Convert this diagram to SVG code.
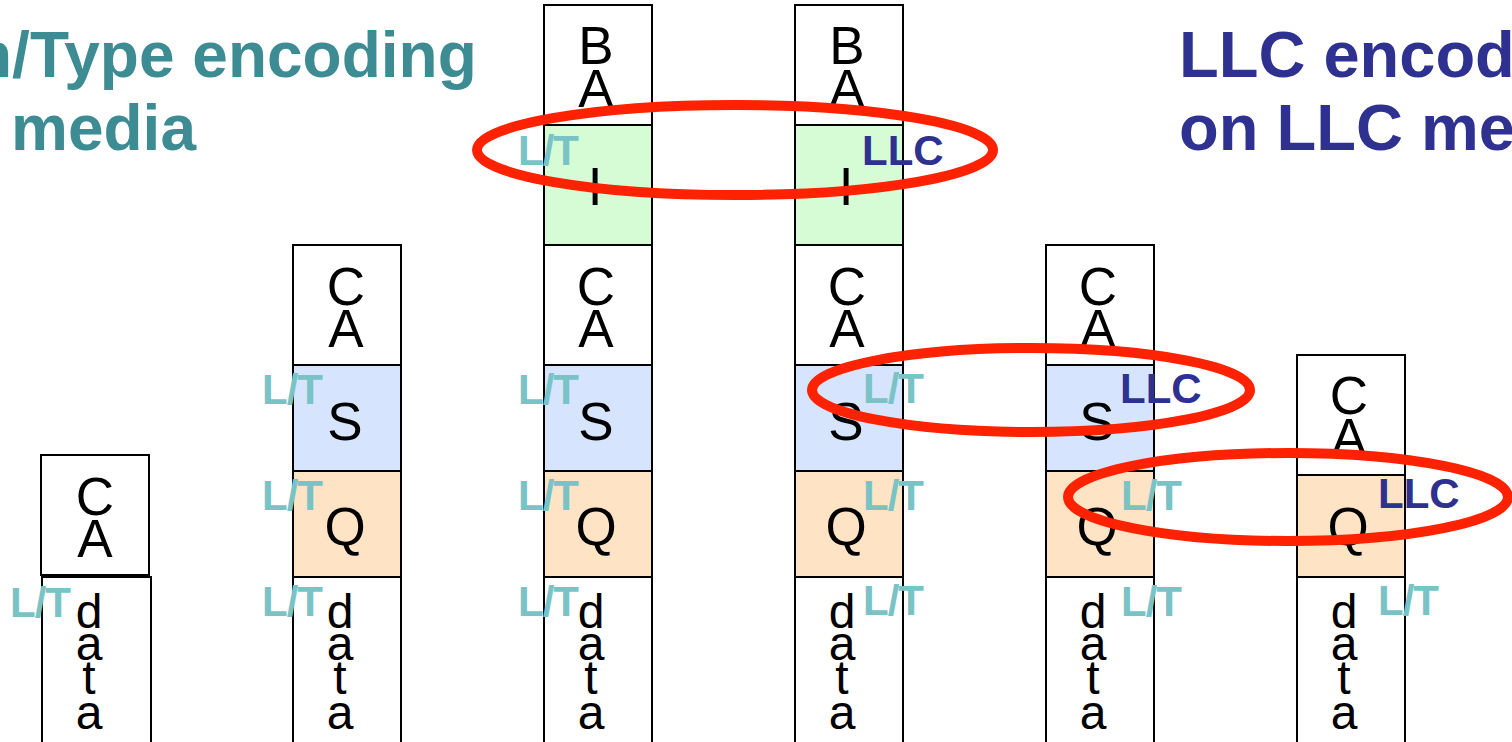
<svg xmlns="http://www.w3.org/2000/svg" width="1512" height="742" viewBox="0 0 1512 742">
  <style>
    .box { stroke: #000; stroke-width: 2; }
    .w { fill: #fff; }
    .s { fill: #D6E4FD; }
    .q { fill: #FEE3C5; }
    .g { fill: #D6FCD6; }
    .big { font-family: "Liberation Sans", Arial, sans-serif; font-size: 53px; fill: #000; text-anchor: middle; }
    .dat { font-family: "Liberation Sans", Arial, sans-serif; font-size: 48px; fill: #000; text-anchor: middle; }
    .lt { font-family: "Liberation Sans", Arial, sans-serif; font-weight: bold; font-size: 42px; fill: #79C3C7; letter-spacing: -1px; }
    .llc { font-family: "Liberation Sans", Arial, sans-serif; font-weight: bold; font-size: 42px; fill: #2E3190; }
    .title { font-family: "Liberation Sans", Arial, sans-serif; font-weight: bold; }
    .ring { fill: none; stroke: #FF2200; stroke-width: 10; }
  </style>
  <rect width="1512" height="742" fill="#fff"/>

  <!-- headings -->
  <g id="title-left" class="title" fill="#3D8C93" font-size="64">
    <text x="-27" y="77">n/Type encoding</text>
    <text x="11" y="150">media</text>
  </g>
  <g id="title-right" class="title" fill="#2E3190" font-size="65">
    <text x="1179" y="77">LLC encodi</text>
    <text x="1179" y="150">on LLC me</text>
  </g>

  <!-- frame 1: C A / data -->
  <g id="frame1">
    <rect class="box w" x="41" y="455" width="108" height="120"/>
    <text class="big"><tspan x="95" y="515">C</tspan><tspan x="95" y="557">A</tspan></text>
    <rect class="box w" x="42" y="577" width="109" height="180"/>
    <text class="dat"><tspan x="89" y="628">d</tspan><tspan x="89" y="660">a</tspan><tspan x="89" y="694">t</tspan><tspan x="89" y="729">a</tspan></text>
    <text class="lt" x="10" y="617">L/T</text>
  </g>

  <!-- frame 2: C A / S / Q / data -->
  <g id="frame2">
    <rect class="box w" x="293" y="245" width="108" height="120"/>
    <text class="big"><tspan x="346" y="305">C</tspan><tspan x="346" y="347">A</tspan></text>
    <rect class="box s" x="293" y="365" width="108" height="106"/>
    <text class="big" x="345" y="440">S</text>
    <rect class="box q" x="293" y="471" width="108" height="106"/>
    <text class="big" x="345" y="545">Q</text>
    <rect class="box w" x="293" y="577" width="108" height="180"/>
    <text class="dat"><tspan x="340" y="628">d</tspan><tspan x="340" y="660">a</tspan><tspan x="340" y="694">t</tspan><tspan x="340" y="729">a</tspan></text>
    <text class="lt" x="262" y="404">L/T</text>
    <text class="lt" x="262" y="510">L/T</text>
    <text class="lt" x="262" y="616">L/T</text>
  </g>

  <!-- frame 3: B A / I / C A / S / Q / data (L/T) -->
  <g id="frame3">
    <rect class="box w" x="544" y="5" width="108" height="120"/>
    <text class="big"><tspan x="596" y="64">B</tspan><tspan x="596" y="107">A</tspan></text>
    <rect class="box g" x="544" y="125" width="108" height="120"/>
    <text class="big" x="595" y="205">I</text>
    <rect class="box w" x="544" y="245" width="108" height="120"/>
    <text class="big"><tspan x="596" y="305">C</tspan><tspan x="596" y="347">A</tspan></text>
    <rect class="box s" x="544" y="365" width="108" height="106"/>
    <text class="big" x="596" y="440">S</text>
    <rect class="box q" x="544" y="471" width="108" height="106"/>
    <text class="big" x="596" y="545">Q</text>
    <rect class="box w" x="544" y="577" width="108" height="180"/>
    <text class="dat"><tspan x="591" y="628">d</tspan><tspan x="591" y="660">a</tspan><tspan x="591" y="694">t</tspan><tspan x="591" y="729">a</tspan></text>
    <text class="lt" x="518" y="165">L/T</text>
    <text class="lt" x="518" y="404">L/T</text>
    <text class="lt" x="518" y="510">L/T</text>
    <text class="lt" x="518" y="616">L/T</text>
  </g>

  <!-- frame 4: B A / I (LLC) / C A / S / Q / data -->
  <g id="frame4">
    <rect class="box w" x="795" y="5" width="108" height="120"/>
    <text class="big"><tspan x="847" y="64">B</tspan><tspan x="847" y="107">A</tspan></text>
    <rect class="box g" x="795" y="125" width="108" height="120"/>
    <text class="big" x="846" y="205">I</text>
    <rect class="box w" x="795" y="245" width="108" height="120"/>
    <text class="big"><tspan x="847" y="305">C</tspan><tspan x="847" y="347">A</tspan></text>
    <rect class="box s" x="795" y="365" width="108" height="106"/>
    <text class="big" x="846" y="440">S</text>
    <rect class="box q" x="795" y="471" width="108" height="106"/>
    <text class="big" x="846" y="545">Q</text>
    <rect class="box w" x="795" y="577" width="108" height="180"/>
    <text class="dat"><tspan x="842" y="628">d</tspan><tspan x="842" y="660">a</tspan><tspan x="842" y="694">t</tspan><tspan x="842" y="729">a</tspan></text>
    <text class="llc" x="862" y="165">LLC</text>
    <text class="lt" x="863" y="403">L/T</text>
    <text class="lt" x="863" y="510">L/T</text>
    <text class="lt" x="863" y="615">L/T</text>
  </g>

  <!-- frame 5: C A / S (LLC) / Q / data -->
  <g id="frame5">
    <rect class="box w" x="1046" y="245" width="108" height="120"/>
    <text class="big"><tspan x="1098" y="305">C</tspan><tspan x="1098" y="347">A</tspan></text>
    <rect class="box s" x="1046" y="365" width="108" height="106"/>
    <text class="big" x="1097" y="440">S</text>
    <rect class="box q" x="1046" y="471" width="108" height="106"/>
    <text class="big" x="1097" y="545">Q</text>
    <rect class="box w" x="1046" y="577" width="108" height="180"/>
    <text class="dat"><tspan x="1093" y="628">d</tspan><tspan x="1093" y="660">a</tspan><tspan x="1093" y="694">t</tspan><tspan x="1093" y="729">a</tspan></text>
    <text class="llc" x="1120" y="403">LLC</text>
    <text class="lt" x="1121" y="510">L/T</text>
    <text class="lt" x="1121" y="616">L/T</text>
  </g>

  <!-- frame 6: C A / Q (LLC) / data -->
  <g id="frame6">
    <rect class="box w" x="1297" y="355" width="108" height="120"/>
    <text class="big"><tspan x="1349" y="414">C</tspan><tspan x="1349" y="456">A</tspan></text>
    <rect class="box q" x="1297" y="475" width="108" height="102"/>
    <text class="big" x="1348" y="545">Q</text>
    <rect class="box w" x="1297" y="577" width="108" height="180"/>
    <text class="dat"><tspan x="1344" y="628">d</tspan><tspan x="1344" y="660">a</tspan><tspan x="1344" y="694">t</tspan><tspan x="1344" y="729">a</tspan></text>
    <text class="llc" x="1378" y="508">LLC</text>
    <text class="lt" x="1378" y="615">L/T</text>
  </g>

  <!-- highlight rings -->
  <g id="rings">
    <ellipse class="ring" cx="735" cy="150" rx="258" ry="45"/>
    <ellipse class="ring" cx="1031" cy="390" rx="219" ry="42"/>
    <ellipse class="ring" cx="1288" cy="497" rx="220" ry="44"/>
  </g>
</svg>
